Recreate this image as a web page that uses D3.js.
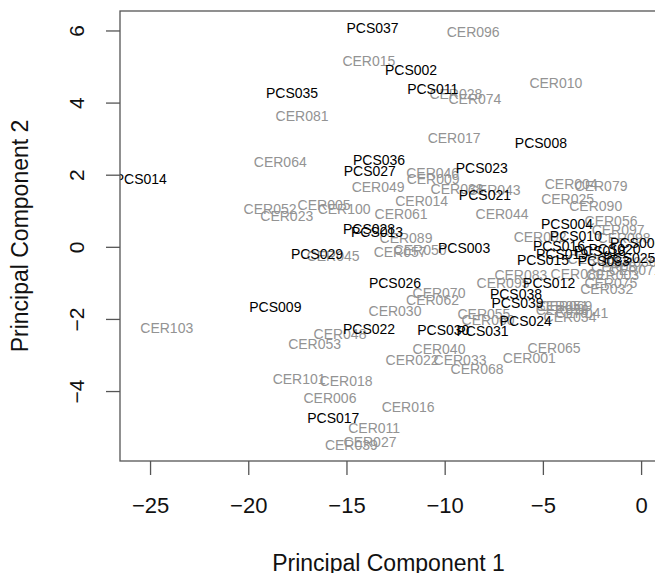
<!DOCTYPE html>
<html>
<head>
<meta charset="utf-8">
<script src="https://cdn.jsdelivr.net/npm/d3@7"></script>
<style>
  body { margin: 0; background: #fff; }
  svg { font-family: "Liberation Sans", Arial, Helvetica, sans-serif; }
</style>
</head>
<body>
<div id="chart"></div>
<script>
// PCA scores
var pcsNames = ["PCS037","PCS002","PCS035","PCS011","PCS008","PCS014","PCS036","PCS027","PCS023","PCS021",
                "PCS004","PCS028","PCS013","PCS010","PCS003","PCS016","PCS029","PCS006","PCS019","PCS015",
                "PCS026","PCS012","PCS038","PCS039","PCS009","PCS024","PCS022","PCS030","PCS031","PCS017",
                "PCS018","PCS020","PCS025","PCS033"];
var pcsPC1 = [-13.67,-11.71,-17.77,-10.61,-5.10,-25.47,-13.34,-13.81,-8.11,-7.95,
              -3.77,-13.85,-13.44,-3.32,-9.01,-4.18,-16.50,-0.25,-4.02,-4.99,
              -12.53,-4.68,-6.37,-6.29,-18.62,-5.87,-13.85,-10.07,-8.07,-15.67,
              -2.10,-1.35,-0.60,-1.90];
var pcsPC2 = [6.06,4.90,4.27,4.39,2.87,1.87,2.42,2.11,2.19,1.45,
              0.63,0.49,0.40,0.29,-0.02,0.03,-0.19,0.10,-0.21,-0.375,
              -1.01,-0.99,-1.30,-1.55,-1.67,-2.07,-2.27,-2.30,-2.32,-4.76,
              -0.12,-0.05,-0.30,-0.40];

var cerNames = ["CER096","CER015","CER010","CER028","CER074","CER081","CER017","CER064","CER046","CER009",
                "CER049","CER038","CER043","CER014","CER061","CER044","CER004","CER079","CER025","CER090",
                "CER052","CER005","CER100","CER023","CER056","CER097","CER098","CER089","CER092","CER057",
                "CER050","CER045","CER083","CER095","CER003","CER080","CER075","CER032","CER070","CER062",
                "CER030","CER051","CER069","CER058","CER041","CER034","CER055","CER060","CER103","CER048",
                "CER053","CER040","CER065","CER022","CER033","CER001","CER068","CER101","CER018","CER006",
                "CER016","CER011","CER027","CER039","CER036","CER087","CER012","CER071"];
var cerPC1 = [-8.55,-13.86,-4.34,-9.43,-8.46,-17.26,-9.52,-18.37,-10.61,-10.59,
              -13.39,-9.37,-7.48,-11.17,-12.22,-7.08,-3.56,-2.04,-3.74,-2.31,
              -18.89,-16.14,-15.12,-18.04,-1.53,-1.17,-0.87,-11.97,-5.14,-12.27,
              -11.25,-15.68,-6.12,-7.03,-1.45,-3.26,-1.54,-1.75,-10.29,-10.62,
              -12.53,-4.02,-3.83,-4.02,-3.02,-3.62,-8.00,-7.79,-24.15,-15.33,
              -16.62,-10.29,-4.43,-11.66,-9.22,-5.69,-8.35,-17.41,-15.02,-15.84,
              -11.86,-13.59,-13.80,-14.75,-0.56,-1.20,-2.40,-0.30];
var cerPC2 = [5.95,5.15,4.55,4.24,4.09,3.63,3.03,2.34,2.05,1.875,
              1.66,1.60,1.59,1.26,0.92,0.92,1.75,1.68,1.34,1.14,
              1.04,1.15,1.04,0.85,0.71,0.46,0.25,0.24,0.26,-0.15,
              -0.10,-0.26,-0.79,-0.99,-0.77,-0.74,-0.99,-1.18,-1.28,-1.47,
              -1.79,-1.63,-1.65,-1.76,-1.84,-1.95,-1.86,-2.04,-2.24,-2.41,
              -2.69,-2.83,-2.80,-3.13,-3.14,-3.07,-3.40,-3.66,-3.71,-4.20,
              -4.43,-5.02,-5.42,-5.49,-0.43,-0.55,-0.35,-0.65];

var xTicks = [-25, -20, -15, -10, -5, 0];
var yTicks = [-4, -2, 0, 2, 4, 6];
var xTitle = "Principal Component 1";
var yTitle = "Principal Component 2";

var width = 655, height = 573;
var plot = {left: 120, right: 657, top: 11, bottom: 461};

var x = d3.scaleLinear().domain([-26.53, 0.81]).range([plot.left, plot.right]);
var y = d3.scaleLinear().domain([-5.94, 6.54]).range([plot.bottom, plot.top]);

var svg = d3.select("#chart").append("svg")
    .attr("width", width)
    .attr("height", height);

svg.append("defs").append("clipPath")
    .attr("id", "plotclip")
    .append("rect")
    .attr("x", plot.left)
    .attr("y", plot.top)
    .attr("width", plot.right - plot.left)
    .attr("height", plot.bottom - plot.top);

function toRows(names, pc1, pc2) {
    return names.map(function(n, i) { return {name: n, pc1: pc1[i], pc2: pc2[i]}; });
}

var labels = svg.append("g").attr("clip-path", "url(#plotclip)");

labels.selectAll(".cer")
    .data(toRows(cerNames, cerPC1, cerPC2))
    .enter().append("text")
    .attr("class", "cer")
    .attr("x", d => x(d.pc1))
    .attr("y", d => y(d.pc2))
    .attr("dy", "0.36em")
    .attr("text-anchor", "middle")
    .attr("font-size", 14)
    .attr("fill", "#939393")
    .text(d => d.name);

labels.selectAll(".pcs")
    .data(toRows(pcsNames, pcsPC1, pcsPC2))
    .enter().append("text")
    .attr("class", "pcs")
    .attr("x", d => x(d.pc1))
    .attr("y", d => y(d.pc2))
    .attr("dy", "0.36em")
    .attr("text-anchor", "middle")
    .attr("font-size", 14)
    .attr("fill", "#000")
    .text(d => d.name);

// box
svg.append("rect")
    .attr("x", plot.left)
    .attr("y", plot.top)
    .attr("width", plot.right - plot.left)
    .attr("height", plot.bottom - plot.top)
    .attr("fill", "none")
    .attr("stroke", "#555")
    .attr("stroke-width", 1.3);

var fmt = function(d) { return d < 0 ? "\u2212" + Math.abs(d) : "" + d; };

var xAxis = svg.append("g")
    .attr("transform", "translate(0," + plot.bottom + ")")
    .call(d3.axisBottom(x).tickValues(xTicks).tickSize(14).tickPadding(22).tickFormat(fmt));
xAxis.select(".domain").remove();
xAxis.selectAll(".tick line").attr("stroke", "#555").attr("stroke-width", 1.3);
xAxis.selectAll(".tick text")
    .attr("font-size", 22)
    .attr("font-family", "Liberation Sans, Arial, sans-serif")
    .attr("fill", "#111");

var yAxis = svg.append("g")
    .attr("transform", "translate(" + plot.left + ",0)")
    .call(d3.axisLeft(y).tickValues(yTicks).tickSize(14).tickFormat(fmt));
yAxis.select(".domain").remove();
yAxis.selectAll(".tick line").attr("stroke", "#555").attr("stroke-width", 1.3);
yAxis.selectAll(".tick text")
    .attr("font-size", 21)
    .attr("font-family", "Liberation Sans, Arial, sans-serif")
    .attr("fill", "#111")
    .attr("x", null)
    .attr("dy", null)
    .attr("text-anchor", "middle")
    .attr("transform", "translate(-44,0) rotate(-90)")
    .attr("dominant-baseline", "central");

svg.append("text")
    .attr("x", (plot.left + plot.right) / 2)
    .attr("y", 571)
    .attr("text-anchor", "middle")
    .attr("font-size", 23)
    .attr("fill", "#111")
    .text(xTitle);

svg.append("text")
    .attr("transform", "translate(20," + (plot.top + plot.bottom) / 2 + ") rotate(-90)")
    .attr("text-anchor", "middle")
    .attr("dominant-baseline", "central")
    .attr("font-size", 23)
    .attr("fill", "#111")
    .text(yTitle);
</script>
</body>
</html>
